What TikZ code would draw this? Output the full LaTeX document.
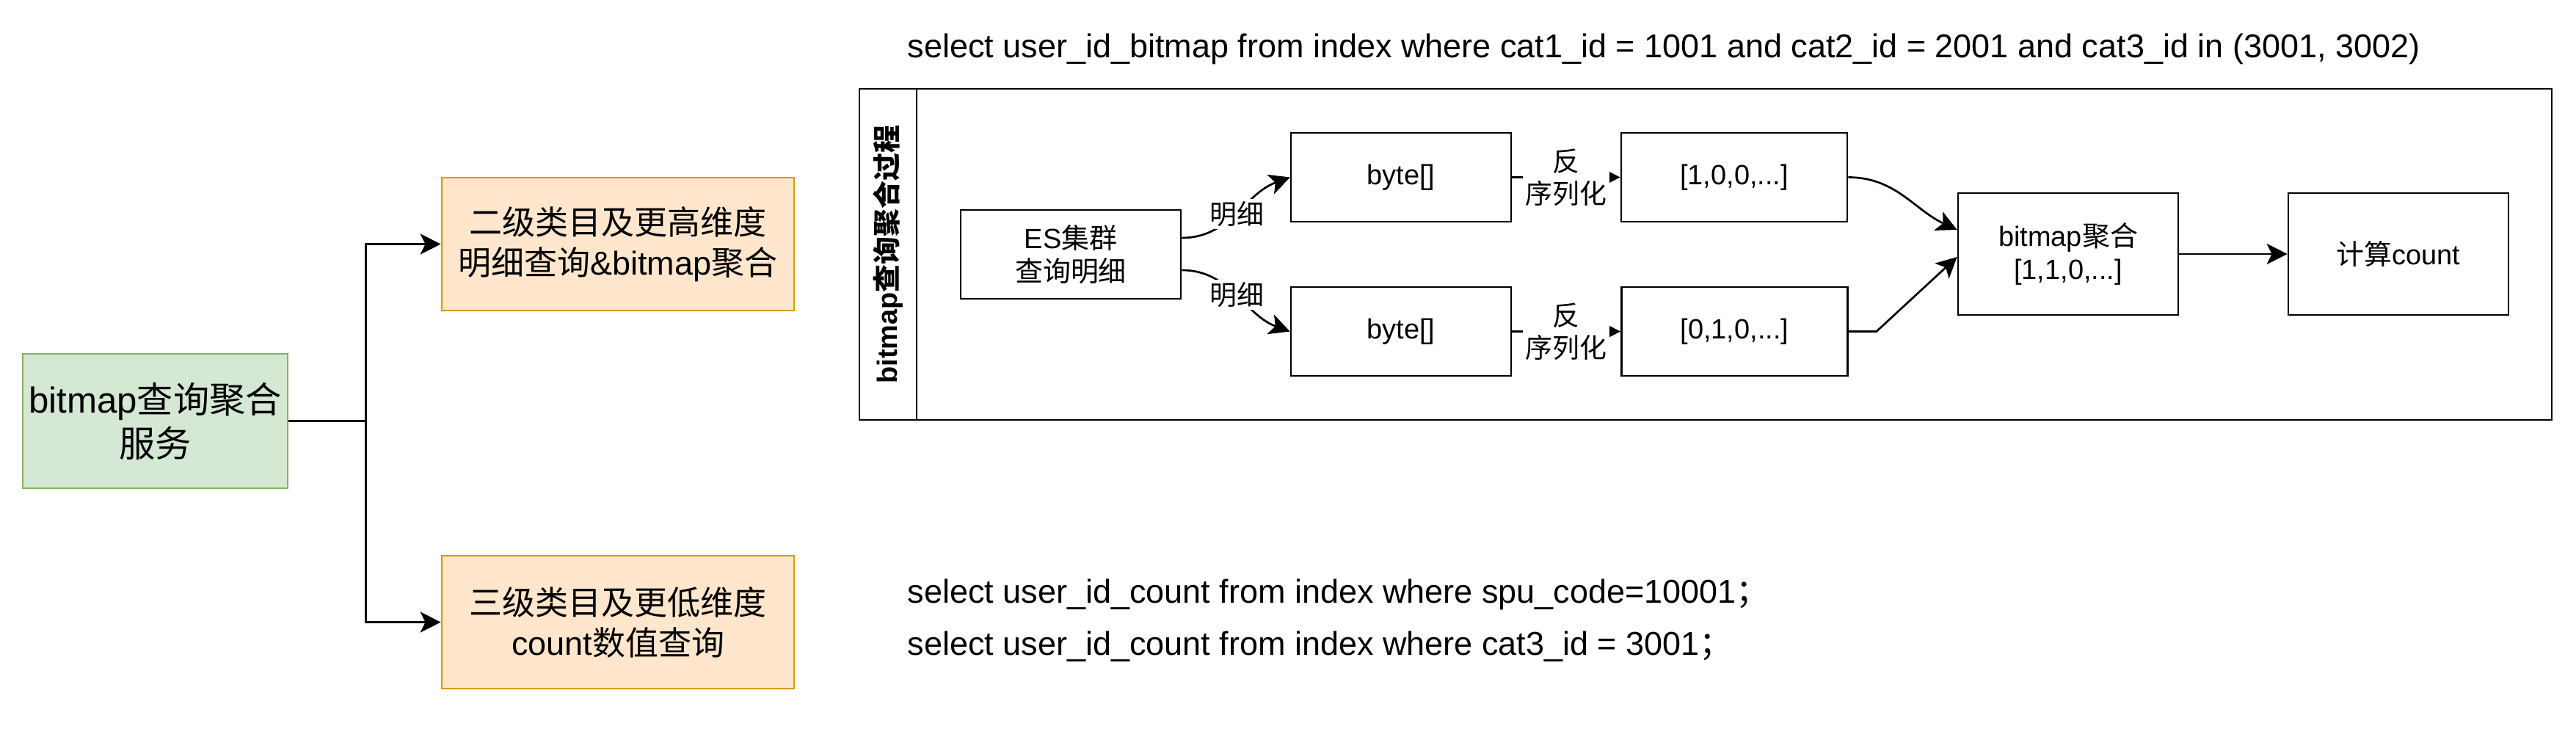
\documentclass[tikz,border=0pt]{standalone}
\usepackage{fontspec}
\setmainfont{Liberation Sans}
\newfontfamily\cjk{Noto Sans CJK SC}
\usetikzlibrary{positioning}
\usetikzlibrary{arrows.meta}
\definecolor{svcfill}{HTML}{D5E8D4}
\definecolor{svcline}{HTML}{82B366}
\definecolor{typefill}{HTML}{FFE6CC}
\definecolor{typeline}{HTML}{D79B00}
\tikzset{
	every node/.style = {font=\fontsize{10.8}{13}\selectfont},
	svcbox/.style = {draw=svcline, fill=svcfill, line width=0.75pt, align=center, inner xsep=1pt, minimum width=3.61cm, minimum height=1.83cm, font=\fontsize{14}{17}\selectfont},
	typebox/.style = {draw=typeline, fill=typefill, line width=0.75pt, align=center, minimum width=4.8cm, minimum height=1.81cm, font=\fontsize{12.8}{15.6}\selectfont},
	stepbox/.style = {draw, line width=0.75pt, align=center, minimum width=3cm, minimum height=1.21cm},
	sqltext/.style = {anchor=west, inner sep=0pt, font=\fontsize{12.8}{15}\selectfont},
	edgetext/.style = {fill=white, inner sep=1pt, align=center, font=\fontsize{10.5}{12.6}\selectfont},
	link/.style = {line width=0.77pt, -{Stealth[length=8pt, width=8pt, inset=2pt]}}
}

\begin{document}
\begin{tikzpicture}
	\useasboundingbox (0,0) rectangle (35.10,-9.93);
	% service and query types
	\node[svcbox] (svc) at (2.115,-5.735) {bitmap{\cjk 查询聚合}\\{\cjk 服务}};
	\node[typebox] (high) at (8.42,-3.325) {{\cjk 二级类目及更高维度}\\{\cjk 明细查询}\&bitmap{\cjk 聚合}};
	\node[typebox] (low) at (8.42,-8.475) {{\cjk 三级类目及更低维度}\\count{\cjk 数值查询}};
	\coordinate (fork) at ([xshift=1.05cm]svc.east);
	\draw[link] (svc.east) -- (fork) |- (high.west);
	\draw[link] (fork) |- (low.west);

	\node[sqltext] (sqlbitmap) at (12.36,-0.665) {select user\_id\_bitmap from index where cat1\_id = 1001 and cat2\_id = 2001 and cat3\_id in (3001, 3002)};
	\node[sqltext] (sqlspu) at (12.36,-8.10) {select user\_id\_count from index where spu\_code=10001{\cjk ；}};
	\node[sqltext] (sqlcat) at (12.36,-8.81) {select user\_id\_count from index where cat3\_id = 3001{\cjk ；}};

	% lane
	\node[draw, line width=0.75pt, minimum width=23.06cm, minimum height=4.51cm] (lane) at (23.24,-3.465) {};
	\node[draw, line width=0.75pt, minimum width=0.78cm, minimum height=4.51cm, anchor=north west] (lanehead) at (lane.north west) {};
	\node[rotate=90, font=\bfseries\fontsize{10.8}{13}\selectfont] (lanetitle) at (lanehead) {bitmap{\cjk 查询聚合过程}};

	\node[stepbox] (es) at (14.59,-3.465) {ES{\cjk 集群}\\{\cjk 查询明细}};
	\node[stepbox] (bytea) at (19.09,-2.415) {byte[]};
	\node[stepbox] (byteb) at (19.09,-4.515) {byte[]};
	\node[stepbox, minimum width=3.08cm] (lista) at (23.63,-2.415) {[1,0,0,...]};
	\node[stepbox, minimum width=3.08cm] (listb) at (23.635,-4.515) {[0,1,0,...]};
	\node[stepbox, minimum height=1.66cm] (agg) at (28.18,-3.46) {bitmap{\cjk 聚合}\\{[1,1,0,...]}};
	\node[stepbox, minimum height=1.66cm] (cnt) at (32.68,-3.46) {{\cjk 计算}count};

	\draw[link] ([yshift=0.225cm]es.east) to[out=0, in=200] node[edgetext] {\cjk 明细} (bytea.west);
	\draw[link] ([yshift=-0.215cm]es.east) to[out=0, in=160] node[edgetext] {\cjk 明细} (byteb.west);
	\draw[link] (bytea) -- node[edgetext] {{\cjk 反}\\{\cjk 序列化}} (lista);
	\draw[link] (byteb) -- node[edgetext] {{\cjk 反}\\{\cjk 序列化}} (listb);
	\draw[link] (lista.east) to[out=0, in=155] ([yshift=0.33cm]agg.west);
	\draw[link] (listb.east) -- ++(0.38,0) -- ([yshift=-0.04cm]agg.west);
	\draw[link] (agg) -- (cnt);
\end{tikzpicture}
\end{document}
